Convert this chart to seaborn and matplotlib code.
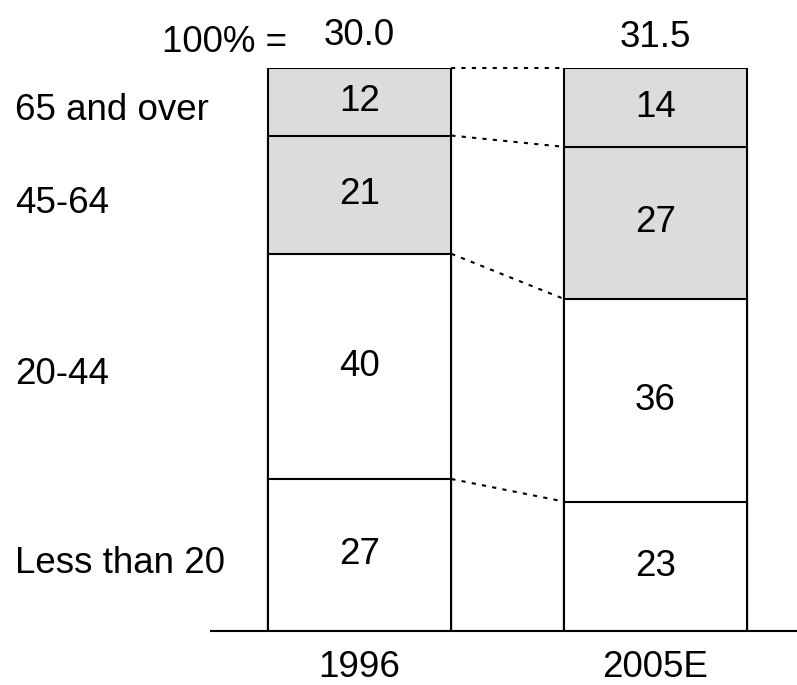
import matplotlib
matplotlib.use("Agg")
import matplotlib.pyplot as plt
import matplotlib.transforms as mtransforms
import numpy as np
import pandas as pd
import seaborn as sns

# data
years = ["1996", "2005E"]
totals = ["30.0", "31.5"]
age_groups = ["Less than 20", "20-44", "45-64", "65 and over"]
share_1996 = [27, 40, 21, 12]
share_2005 = [23, 36, 27, 14]
fills = ["white", "white", "#dcdcdc", "#dcdcdc"]

sns.set_style("white")
plt.rcParams["font.family"] = ["Liberation Sans", "DejaVu Sans"]
plt.rcParams["text.color"] = "black"
plt.rcParams["xtick.color"] = "black"
FS = 26.5

fig = plt.figure(figsize=(7.97, 6.85), dpi=100)
ax = fig.add_axes([211 / 797, 54 / 685, 586 / 797, 563 / 685])

shares = np.array([share_1996, share_2005])
cum = shares.cumsum(axis=1)
w = 0.62

# draw cumulative bars, tallest first so the lower layers sit on top
for i in reversed(range(len(age_groups))):
    df = pd.DataFrame({"year": years, "val": cum[:, i]})
    sns.barplot(data=df, x="year", y="val", color=fills[i], saturation=1,
                width=w, edgecolor="black", linewidth=1.5, ax=ax)

# segment values
for j in range(len(years)):
    lows = np.concatenate([[0], cum[j, :-1]])
    for k in range(len(age_groups)):
        ax.text(j, (lows[k] + cum[j, k]) / 2, str(shares[j, k]), ha="center",
                va="center", fontsize=FS)

# dotted connectors between the bars
for k in range(len(age_groups)):
    ax.plot([w / 2, 1 - w / 2], [cum[0, k], cum[1, k]], color="black",
            lw=1.5, ls=(0, (2, 3)), clip_on=False)

# row labels on the left
trans = mtransforms.blended_transform_factory(fig.transFigure, ax.transData)
lows0 = np.concatenate([[0], cum[0, :-1]])
for k, name in enumerate(age_groups):
    fig.text(15 / 797, (lows0[k] + cum[0, k]) / 2 - 1.5, name, transform=trans,
             ha="left", va="center", fontsize=FS)

# totals on top
for j, t in enumerate(totals):
    ax.text(j, 105.8 - 0.4 * j, t, ha="center", va="center", fontsize=FS, clip_on=False)
ax.text(-0.245, 104.6, "100% =", ha="right", va="center", fontsize=FS, clip_on=False)

ax.set_xlim(-0.502, 1.478)
ax.set_ylim(0, 100)
ax.set_xlabel("")
ax.set_ylabel("")
ax.set_yticks([])
ax.tick_params(axis="x", length=0, pad=14, labelsize=FS)
for s in ["top", "left", "right"]:
    ax.spines[s].set_visible(False)
ax.spines["bottom"].set_linewidth(1.5)
ax.spines["bottom"].set_color("black")

fig.savefig("out.png", dpi=100)
